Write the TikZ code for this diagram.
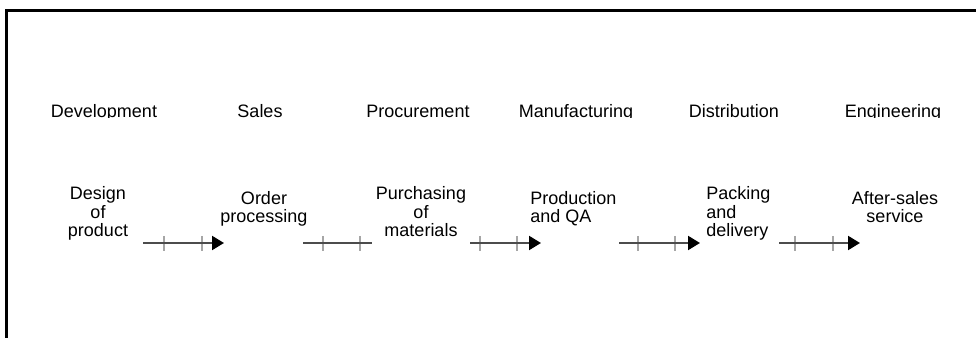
\documentclass[tikz,border=0pt]{standalone}
\usepackage{fontspec}
\setmainfont{Liberation Sans}
\usetikzlibrary{positioning,arrows.meta}

\begin{document}
\begin{tikzpicture}[
  x=0.75pt, y=-0.75pt,
  font=\fontsize{13.5}{13.9}\selectfont,
  hdr/.style={inner sep=0pt, anchor=base},
  act/.style={inner sep=0pt, align=center, anchor=base},
  actl/.style={inner sep=0pt, align=left, anchor=base west},
  flow/.style={line width=1.6pt, black!70, -{Triangle[length=9pt, width=10.5pt, black]}},
  plain/.style={line width=1.6pt, black!70},
  tick/.style={line width=1pt, gray!70}
]
  \clip (0,0) rectangle (976,338);
  \draw[line width=1.6pt] (6.5,360) |- (1000,10.5);

  \begin{scope}
    \clip (0,0) rectangle (976,118);
    \node[hdr] (dev)  at (104,117.5) {Development};
    \node[hdr] (sal)  at (260,117.5) {Sales};
    \node[hdr] (proc) at (418,117.5) {Procurement};
    \node[hdr] (man)  at (576,117.5) {Manufacturing};
    \node[hdr] (dist) at (734,117.5) {Distribution};
    \node[hdr] (eng)  at (893,117.5) {Engineering};
  \end{scope}

  \node[act]  (design) at (98,237)  {Design\\of\\product};
  \node[act]  (order)  at (264,223) {Order\\processing};
  \node[act]  (purch)  at (421,237) {Purchasing\\of\\materials};
  \node[actl] (prod)   at (530,223) {Production\\and QA};
  \node[actl] (pack)   at (706,237) {Packing\\and\\delivery};
  \node[act]  (after)  at (895,223) {After-sales\\service};

  \foreach \i/\a/\b/\ta/\tb in {1/143/224/164/202, 2/303/372/323/360, 3/470/541/480/517,
                              4/619/700/638/675, 5/779/860/795/833} {
    \coordinate (s\i) at (\a,243);
    \coordinate (e\i) at (\b,243);
    \draw[tick] (\ta,236) -- (\ta,251);
    \draw[tick] (\tb,236) -- (\tb,251);
  }
  \draw[plain] (s2) -- (e2);
  \foreach \i in {1,3,4,5} \draw[flow] (s\i) -- (e\i);
\end{tikzpicture}
\end{document}
